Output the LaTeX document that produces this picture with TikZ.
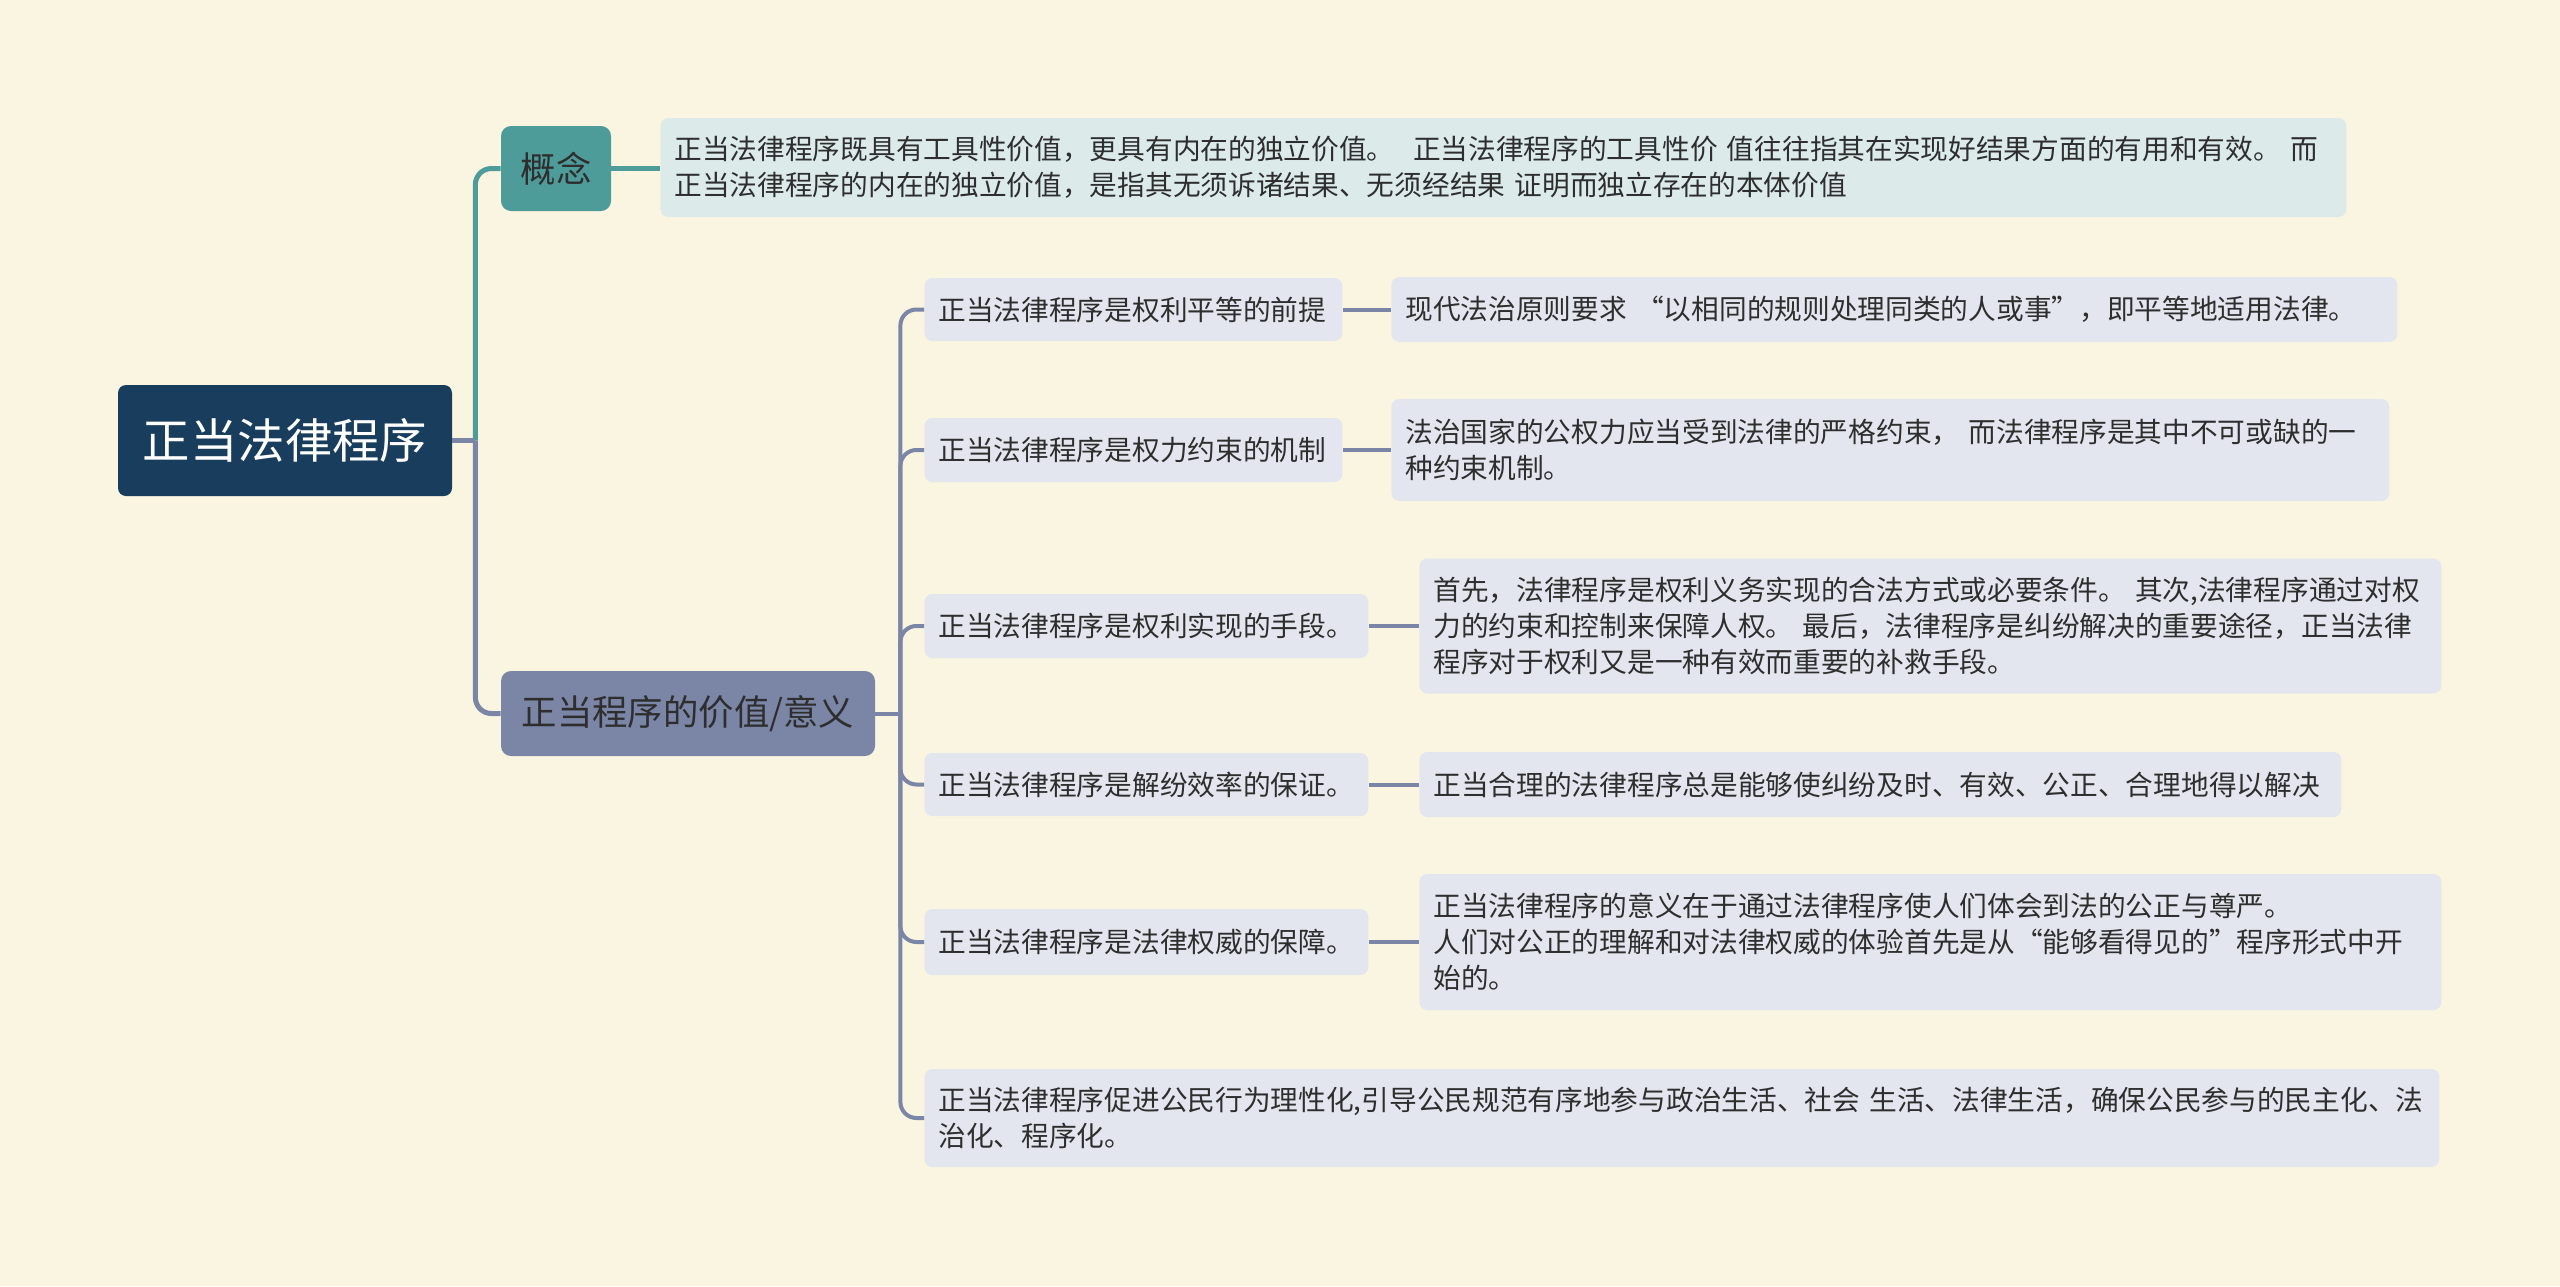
\documentclass[tikz,border=0pt]{standalone}
\usepackage{fontspec}
\setmainfont{Noto Sans CJK SC}
\definecolor{bg}{HTML}{FAF5E0}
\definecolor{rootfill}{HTML}{193D5C}
\definecolor{tealc}{HTML}{4E9C9A}
\definecolor{tealbox}{HTML}{DCEBEA}
\definecolor{slatec}{HTML}{7B86A7}
\definecolor{leaffill}{HTML}{E3E6EE}
\definecolor{txt}{HTML}{2E2E2E}
\newcommand\tl[1]{\mbox{#1}}
\begin{document}
\begin{tikzpicture}[x=0.5pt,y=-0.5pt,
  rootbox/.style={rounded corners=4pt, fill=rootfill, text=white, font=\fontsize{23.7pt}{28pt}\selectfont, inner sep=0pt},
  midbox/.style={rounded corners=5pt, text=txt, font=\fontsize{17.7pt}{21pt}\selectfont, inner sep=0pt},
  leaf/.style={rounded corners=4pt, fill=leaffill, text=txt, font=\fontsize{13.85pt}{18pt}\selectfont, align=left, inner xsep=7pt, inner ysep=0pt, anchor=west},
  mainline/.style={line width=2.5pt},
  subline/.style={line width=2pt, draw=slatec},
]
\fill[bg] (0,0) rectangle (2560,1286);
\useasboundingbox (0,0) rectangle (2560,1286);

% root and level 1
\node[rootbox, minimum width=167pt, minimum height=55.5pt] (root) at (285,440.5) {正当法律程序};
\node[midbox, fill=tealc, minimum width=55pt, minimum height=42.5pt] (concept) at (556,168.5) {概念};
\node[midbox, fill=slatec, minimum width=187pt, minimum height=42.5pt] (value) at (688,713.5) {正当程序的价值/意义};

% concept text
\node[leaf, fill=tealbox, text width=829pt, minimum height=49.5pt] (ctext) at (660,167.5)
  {\tl{正当法律程序既具有工具性价值，更具有内在的独立价值。\ \ 正当法律程序的工具性价 值往往指其在实现好结果方面的有用和有效。 而}\\
   \tl{正当法律程序的内在的独立价值，是指其无须诉诸结果、无须经结果 证明而独立存在的本体价值}};

% children
\node[leaf, text width=195pt, minimum height=31.5pt] (c1) at (924,309.5) {\tl{正当法律程序是权利平等的前提}};
\node[leaf, text width=195pt, minimum height=32pt] (c2) at (924,450) {\tl{正当法律程序是权力约束的机制}};
\node[leaf, text width=208pt, minimum height=32pt] (c3) at (924,626) {\tl{正当法律程序是权利实现的手段。}};
\node[leaf, text width=208pt, minimum height=31.5pt] (c4) at (924,784.5) {\tl{正当法律程序是解纷效率的保证。}};
\node[leaf, text width=208pt, minimum height=33pt] (c5) at (924,942) {\tl{正当法律程序是法律权威的保障。}};
\node[leaf, text width=743.5pt, minimum height=49pt] (c6) at (924,1118)
  {\tl{正当法律程序促进公民行为理性化,引导公民规范有序地参与政治生活、社会 生活、法律生活，确保公民参与的民主化、法}\\
   \tl{治化、程序化。}};

% right boxes
\node[leaf, text width=489pt, minimum height=32.5pt] (r1) at (1391,309.5)
  {\tl{现代法治原则要求 “以相同的规则处理同类的人或事”，即平等地适用法律。}};
\node[leaf, text width=485pt, minimum height=51pt] (r2) at (1391,450)
  {\tl{法治国家的公权力应当受到法律的严格约束， 而法律程序是其中不可或缺的一}\\
   \tl{种约束机制。}};
\node[leaf, text width=497pt, minimum height=67.5pt] (r3) at (1419,626)
  {\tl{首先，法律程序是权利义务实现的合法方式或必要条件。 其次,法律程序通过对权}\\
   \tl{力的约束和控制来保障人权。 最后，法律程序是纠纷解决的重要途径，正当法律}\\
   \tl{程序对于权利又是一种有效而重要的补救手段。}};
\node[leaf, text width=447pt, minimum height=32.5pt] (r4) at (1419,784.5)
  {\tl{正当合理的法律程序总是能够使纠纷及时、有效、公正、合理地得以解决}};
\node[leaf, text width=497pt, minimum height=68pt] (r5) at (1419,942)
  {\tl{正当法律程序的意义在于通过法律程序使人们体会到法的公正与尊严。}\\
   \tl{人们对公正的理解和对法律权威的体验首先是从“能够看得见的”程序形式中开}\\
   \tl{始的。}};

% connectors level 1
\path (root.east) ++(23,0) coordinate (j1);
\draw[mainline, draw=tealc, rounded corners=8pt] (j1) |- (concept.west);
\draw[mainline, draw=slatec, rounded corners=8pt] (j1) |- (value.west);
\draw[mainline, draw=slatec] (root.east) -- (j1);
\draw[mainline, draw=tealc] (concept.east) -- (ctext.west |- concept.east);

% connectors level 2
\path (value.east) ++(25,0) coordinate (j2);
\draw[subline] (value.east) -- (j2);
\foreach \i in {1,...,6} {
  \draw[subline, rounded corners=8pt] (j2) |- (c\i.west);
}
\foreach \i in {1,...,5} {
  \draw[subline] (c\i.east) -- (r\i.west |- c\i.east);
}
\end{tikzpicture}
\end{document}
